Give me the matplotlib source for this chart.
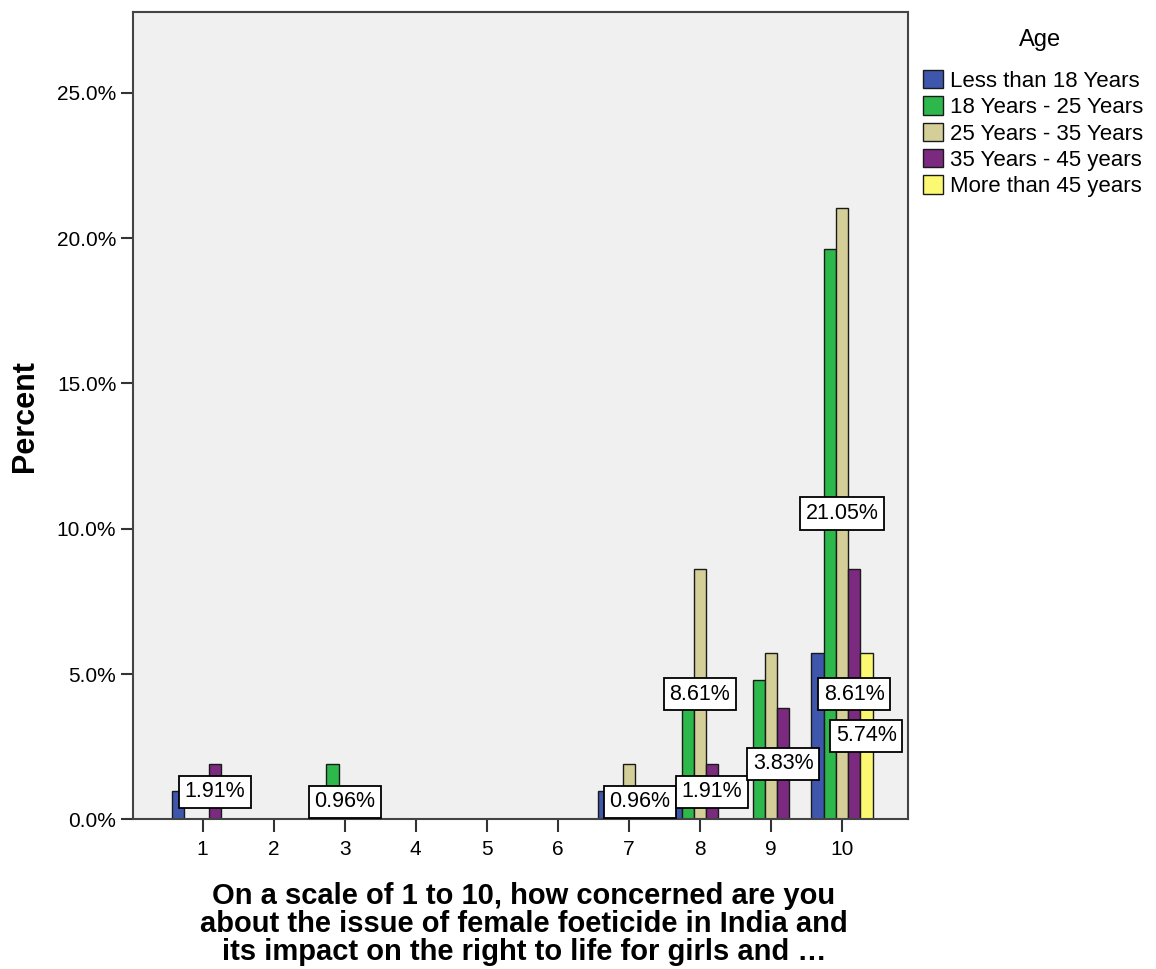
import numpy as np
import matplotlib.pyplot as plt

plt.rcParams['font.family'] = ['Liberation Sans', 'DejaVu Sans']

scale_points = [1, 2, 3, 4, 5, 6, 7, 8, 9, 10]
age_groups = ["Less than 18 Years", "18 Years - 25 Years", "25 Years - 35 Years",
              "35 Years - 45 years", "More than 45 years"]
age_colors = ["#3E57AC", "#2DB84B", "#D4CF98", "#7B2A80", "#FBF872"]

# percent of respondents
less_18 = [0.96, 0, 0, 0, 0, 0, 0.96, 0.48, 0, 5.74]
age_18_25 = [0, 0, 1.91, 0, 0, 0, 0, 4.31, 4.78, 19.62]
age_25_35 = [0, 0, 0.96, 0, 0, 0, 1.91, 8.61, 5.74, 21.05]
age_35_45 = [1.91, 0, 0, 0, 0, 0, 0.96, 1.91, 3.83, 8.61]
more_45 = [0, 0, 0, 0, 0, 0, 0, 0, 0, 5.74]
series = [less_18, age_18_25, age_25_35, age_35_45, more_45]

# which bars carry a value label: (scale point, age group index)
labelled = [(1, 3), (3, 2), (7, 3), (8, 2), (8, 3), (9, 3), (10, 2), (10, 3), (10, 4)]

fig = plt.figure(figsize=(11.56, 9.69), dpi=100)
ax = fig.add_axes([0.115, 0.1544, 0.6705, 0.8332])
ax.set_facecolor("#F0F0F0")

x = np.array(scale_points, dtype=float)
w = 0.172
handles = []
for i, (vals, col, name) in enumerate(zip(series, age_colors, age_groups)):
    b = ax.bar(x + (i - 2) * w, vals, width=w, color=col, edgecolor="#1a1a1a",
               linewidth=1.0, label=name, zorder=2)
    handles.append(b)

min_mid = 0.6
for cat, gi in labelled:
    k = scale_points.index(cat)
    v = series[gi][k]
    xc = cat + (gi - 2) * w
    if cat == 7:
        xc -= 0.02
    ax.text(xc, max(v / 2, min_mid), f"{v:.2f}%", ha="center", va="center",
            fontsize=15.5, zorder=5,
            bbox=dict(boxstyle="square,pad=0.26", fc="white", ec="black", lw=1.3))

ax.set_xlim(0.02, 10.93)
ax.set_ylim(0, 27.78)
ax.set_xticks(scale_points)
ax.set_xticklabels([str(s) for s in scale_points])
ax.set_yticks([0, 5, 10, 15, 20, 25])
ax.set_yticklabels([f"{t:.1f}%" for t in [0, 5, 10, 15, 20, 25]])
ax.tick_params(axis="both", labelsize=15, length=9, width=1.5, color="#333333",
               direction="out")
ax.tick_params(axis="x", pad=6)
ax.tick_params(axis="y", pad=3)
for s in ax.spines.values():
    s.set_color("#444444")
    s.set_linewidth(1.5)

ax.set_ylabel("Percent", fontsize=22, fontweight="bold")
ax.yaxis.set_label_coords(-0.12, 0.5)
ax.set_xlabel("On a scale of 1 to 10, how concerned are you\n"
              "about the issue of female foeticide in India and\n"
              "its impact on the right to life for girls and \u2026",
              fontsize=21, fontweight="bold", linespacing=1.0)
ax.xaxis.set_label_coords(0.5045, -0.077)

fig.text(1040 / 1156, 1 - 40 / 969, "Age", fontsize=17, ha="center", va="center")
fig.legend(handles=handles, labels=age_groups, loc="upper left",
           bbox_to_anchor=(923 / 1156, 1 - 70 / 969), frameon=False,
           fontsize=16, handlelength=0.9, handleheight=0.9,
           handletextpad=0.3, labelspacing=0.2, borderaxespad=0,
           borderpad=0)

fig.savefig("out.png", dpi=100)
